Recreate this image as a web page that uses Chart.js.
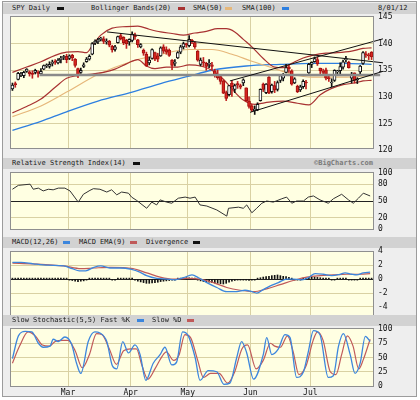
<!DOCTYPE html>
<html>
<head>
<meta charset="utf-8">
<title>SPY Daily</title>
<script src="https://cdn.jsdelivr.net/npm/chart.js@4.4.1/dist/chart.umd.min.js"></script>
<style>
    body { margin: 0; width: 420px; height: 400px; background: #ffffff; overflow: hidden; }
    #frame { position: absolute; left: 2px; top: 1px; width: 413px; height: 394px; border: 1px solid #9c9c9c; background: #eeeeee; }
    .head { position: absolute; left: 3px; width: 413px; height: 11px; background: #d2d2d2; }
    .head span { position: absolute; top: 0; font: 7px "DejaVu Sans Mono", monospace; line-height: 11px; color: #1a1a1a; white-space: nowrap; }
    .head i { position: absolute; top: 4px; width: 7px; height: 3px; }
    .head .brand { font-weight: bold; color: #7a7a7a; }
    canvas { position: absolute; left: 5px; }
</style>
</head>
<body>
<div id="frame"></div>

<div class="head" style="top: 3px;">
    <span style="left: 9px;">SPY Daily</span><i style="left: 54px; background: #111;"></i>
    <span style="left: 88px;">Bollinger Bands(20)</span><i style="left: 175px; background: #a83232;"></i>
    <span style="left: 190px;">SMA(50)</span><i style="left: 222px; background: #e6b77a;"></i>
    <span style="left: 239px;">SMA(100)</span><i style="left: 279px; background: #2d7fe0;"></i>
    <span style="left: 375px;">8/01/12</span>
</div>
<canvas id="price" width="406" height="145" style="top: 11px;"></canvas>

<div class="head" style="top: 158px;">
    <span style="left: 9px;">Relative Strength Index(14)</span><i style="left: 130px; background: #111;"></i>
    <span class="brand" style="right: 43px;">©BigCharts.com</span>
</div>
<canvas id="rsi" width="406" height="68" style="top: 167px;"></canvas>

<div class="head" style="top: 237px;">
    <span style="left: 9px;">MACD(12,26)</span><i style="left: 60px; background: #3c86dd;"></i>
    <span style="left: 76px;">MACD EMA(9)</span><i style="left: 127px; background: #c05a5a;"></i>
    <span style="left: 143px;">Divergence</span><i style="left: 190px; background: #111;"></i>
</div>
<canvas id="macd" width="406" height="72" style="top: 246px;"></canvas>

<div class="head" style="top: 315px;">
    <span style="left: 9px;">Slow Stochastic(5,5) Fast %K</span><i style="left: 134px; background: #3c86dd;"></i>
    <span style="left: 149px;">Slow %D</span><i style="left: 184px; background: #c05a5a;"></i>
</div>
<canvas id="stoch" width="406" height="77" style="top: 323px;"></canvas>

<script>
// day index 0 = Feb 1 2012, 126 = Aug 1 2012
const monthTicks = [19.5, 41.5, 61.5, 83.5, 104.5];
const monthLabels = ['Mar', 'Apr', 'May', 'Jun', 'Jul'];

const priceTicks = [120, 125, 130, 135, 140, 145];
const rsiTicks = [0, 20, 50, 80, 100];
const macdTicks = [-4, -2, 0, 2, 4];
const stochTicks = [0, 25, 50, 75, 100];

// daily candles
const candleOpen = [
    131.5, 132.5, 133.3, 134.1, 134.0, 134.8, 134.7, 134.4, 134.6, 134.5,
    134.3, 135.2, 135.8, 135.7, 136.3, 136.6, 136.4, 137.0, 137.4, 137.6,
    137.2, 137.8, 137.1, 135.3, 134.6, 135.7, 136.6, 137.1, 138.0, 140.1,
    140.3, 140.8, 140.9, 140.3, 140.5, 139.5, 138.9, 140.2, 141.5, 141.2,
    140.6, 140.3, 140.6, 141.6, 140.7, 139.4, 138.8, 138.0, 136.4, 137.2,
    138.3, 137.7, 137.7, 139.4, 138.9, 138.8, 136.9, 136.3, 137.3, 138.4,
    139.4, 139.9, 139.6, 140.6, 140.2, 138.6, 136.1, 136.5, 136.3, 136.1,
    136.0, 134.9, 134.3, 133.8, 133.0, 130.8, 130.4, 132.6, 131.4, 132.5,
    132.1, 132.6, 131.7, 129.2, 128.3, 127.4, 127.6, 129.3, 132.4, 130.8,
    133.7, 131.0, 132.1, 131.4, 133.1, 133.5, 134.6, 135.6, 134.9, 132.6,
    132.0, 131.3, 131.9, 132.8, 134.5, 136.1, 136.6, 137.0, 135.4, 134.8,
    135.1, 133.6, 132.6, 133.1, 134.7, 134.9, 135.6, 137.0, 136.5, 133.5,
    134.5, 133.2, 134.7, 136.3, 138.1, 137.8, 138.4
];
const candleHigh = [
    132.6, 132.8, 134.6, 134.6, 134.8, 135.3, 134.9, 134.9, 135.2, 134.9,
    135.3, 136.0, 136.2, 136.6, 136.9, 137.0, 137.2, 137.6, 137.8, 138.0,
    137.9, 138.0, 137.2, 135.4, 135.4, 136.4, 137.4, 137.9, 140.2, 140.7,
    141.0, 141.2, 141.3, 140.9, 140.6, 139.7, 139.7, 141.4, 141.9, 141.3,
    140.8, 140.9, 142.2, 142.0, 140.8, 140.0, 139.0, 138.4, 137.5, 139.0,
    138.4, 138.2, 139.4, 139.8, 139.4, 139.0, 137.0, 137.0, 138.5, 139.7,
    140.3, 140.1, 141.5, 140.8, 140.4, 138.7, 137.3, 137.4, 136.5, 137.0,
    136.5, 135.2, 135.0, 134.1, 133.2, 131.1, 132.1, 133.1, 132.4, 132.9,
    132.4, 133.4, 131.7, 130.0, 128.6, 128.3, 128.9, 131.5, 132.6, 132.5,
    133.8, 132.4, 132.9, 133.0, 134.1, 134.4, 136.1, 136.0, 135.1, 133.6,
    132.2, 132.2, 133.2, 133.1, 136.3, 136.6, 137.5, 137.5, 135.4, 135.2,
    135.4, 134.0, 133.4, 135.1, 135.0, 136.4, 136.9, 137.6, 136.7, 134.6,
    134.5, 133.6, 135.9, 138.5, 138.5, 138.2, 138.5
];
const candleLow = [
    131.2, 131.8, 133.2, 133.8, 133.6, 134.6, 133.9, 133.5, 134.3, 133.7,
    134.2, 135.1, 135.5, 135.4, 135.8, 136.1, 136.2, 136.4, 137.0, 136.4,
    137.0, 136.8, 135.6, 133.6, 134.4, 135.5, 136.5, 136.9, 137.9, 139.8,
    140.0, 140.5, 140.0, 139.9, 139.4, 138.4, 138.6, 140.1, 140.7, 139.8,
    139.1, 139.7, 140.3, 140.8, 139.3, 139.2, 137.8, 135.7, 136.0, 137.1,
    136.8, 136.6, 137.6, 138.2, 138.0, 137.6, 135.1, 135.8, 137.2, 138.1,
    139.0, 139.3, 139.4, 140.0, 139.1, 136.7, 135.8, 135.7, 135.0, 135.5,
    135.1, 133.7, 133.3, 132.4, 130.6, 129.3, 130.2, 130.1, 130.8, 131.6,
    131.5, 132.1, 129.1, 127.9, 127.2, 126.7, 127.4, 129.2, 131.0, 130.6,
    130.6, 130.7, 130.8, 131.1, 132.7, 133.0, 134.5, 134.6, 132.2, 132.5,
    130.8, 131.0, 131.6, 131.5, 134.4, 135.5, 136.5, 135.9, 134.2, 134.0,
    133.2, 132.9, 131.9, 132.9, 134.1, 134.0, 135.2, 136.5, 135.4, 132.6,
    132.6, 132.5, 134.3, 136.1, 137.4, 137.0, 137.0
];
const candleClose = [
    132.2, 132.3, 134.4, 134.3, 134.6, 135.2, 134.3, 134.2, 135.0, 134.4,
    134.8, 135.9, 136.0, 136.1, 136.4, 136.5, 136.9, 137.3, 137.4, 137.0,
    137.7, 137.3, 135.9, 134.0, 135.0, 136.0, 137.1, 137.6, 140.0, 140.5,
    140.7, 141.0, 140.4, 140.4, 139.7, 138.8, 139.4, 141.3, 140.9, 140.2,
    140.0, 140.8, 141.8, 141.3, 139.8, 139.8, 138.2, 135.8, 136.9, 138.9,
    137.1, 137.1, 139.2, 138.6, 138.4, 137.8, 135.9, 136.5, 138.3, 139.4,
    140.0, 139.8, 140.8, 140.4, 139.4, 136.9, 136.9, 136.4, 135.7, 136.2,
    135.7, 134.1, 133.6, 132.9, 130.7, 129.7, 132.1, 131.9, 132.1, 132.2,
    131.8, 133.2, 129.3, 128.2, 127.5, 127.7, 128.6, 131.4, 131.4, 132.4,
    130.7, 132.2, 131.3, 132.7, 134.0, 134.2, 135.5, 135.3, 132.4, 133.4,
    131.0, 131.9, 132.9, 132.6, 136.1, 136.5, 137.2, 136.2, 134.9, 134.6,
    133.5, 133.4, 132.8, 135.0, 134.7, 135.7, 136.6, 137.0, 135.5, 134.3,
    133.1, 133.2, 135.8, 138.3, 137.9, 137.7, 137.5
];

// overlays (day, value)
const bbUpperDays = [0, 5, 10, 15, 19, 23, 26, 28, 31, 35, 40, 44, 48, 52, 56, 60, 64, 68, 72, 75, 78, 81, 84, 88, 92, 95, 98, 102, 106, 110, 114, 119, 123, 126];
const bbUpper = [134.6, 135.6, 136.6, 137.8, 138.4, 138.5, 138.3, 139.6, 141.6, 142.9, 143.2, 143.3, 142.7, 142.2, 141.9, 141.6, 142.0, 142.3, 142.8, 142.8, 142.2, 140.8, 139.4, 137.2, 135.6, 135.5, 136.3, 137.3, 137.9, 138.2, 138.3, 138.6, 139.1, 139.2];
const bbLowerDays = [0, 5, 10, 15, 19, 23, 28, 32, 36, 40, 44, 47, 50, 54, 58, 62, 66, 70, 74, 78, 81, 85, 90, 95, 100, 104, 108, 112, 116, 120, 123, 126];
const bbLower = [127.0, 128.2, 129.6, 131.8, 133.5, 134.0, 134.3, 134.6, 135.2, 136.2, 137.0, 135.8, 135.3, 135.6, 135.6, 136.0, 135.8, 135.0, 133.3, 130.9, 129.4, 128.6, 129.0, 129.2, 128.8, 128.5, 130.4, 131.6, 132.3, 132.6, 133.0, 133.1];
const sma50Days = [0, 10, 19, 30, 42, 52, 62, 70, 77, 84, 91, 98, 105, 116, 126];
const sma50 = [126.3, 128.3, 130.9, 134.2, 136.7, 138.0, 138.9, 138.9, 138.0, 136.7, 135.5, 134.3, 133.7, 133.7, 134.0];
const sma100Days = [0, 10, 19, 30, 42, 52, 62, 70, 82, 94, 105, 116, 126];
const sma100 = [123.7, 125.4, 127.2, 129.2, 130.9, 132.5, 133.9, 135.0, 135.8, 136.1, 136.3, 136.3, 136.1];

// hand drawn trend lines
const trendDownDays = [33.2, 130];
const trendDown = [142.2, 136.4];
const supportDays = [9.5, 129];
const support = [134.1, 134.1];
const channelTopDays = [76.3, 130];
const channelTop = [133.0, 140.9];
const channelBottomDays = [83.4, 130];
const channelBottom = [127.1, 134.8];

// rsi(14)
const rsiDays = [0, 2.1, 6.2, 7.3, 9.1, 10.8, 12.6, 14.3, 16.1, 18.4, 20.2, 23.1, 24.9, 27.2, 28.4, 30.7, 33.1, 34.8, 36.6, 38.3, 40.7, 41.8, 43.6, 47.1, 48.9, 50.6, 51.8, 54.1, 55.9, 58.2, 60.6, 62.3, 64.1, 65.8, 68.2, 71.7, 75.2, 75.8, 79.3, 81, 82.2, 84, 85.7, 87.5, 89.2, 91.5, 94.5, 96.2, 98, 99.7, 102.1, 103.8, 105.6, 107.9, 110.8, 112.6, 115.5, 117.9, 119.6, 121.4, 123.1, 125.5];
const rsiValues = [71, 78, 80, 71, 73, 68, 71, 70, 73, 73, 68, 48, 62, 69, 72, 71, 66, 70, 61, 66, 64, 57, 51, 37, 48, 43, 52, 48, 46, 55, 57, 55, 57, 43, 41, 34, 23, 37, 39, 37, 43, 29, 37, 46, 50, 48, 54, 57, 46, 50, 50, 57, 59, 52, 46, 54, 62, 52, 46, 55, 64, 59];

// macd(12,26), ema(9) and divergence
const macdDays = [0, 3, 7.3, 12.6, 18, 21, 23.5, 25.7, 28.6, 31, 34.2, 37.7, 41.8, 44.7, 47.1, 50.6, 54.1, 57, 60, 63, 65.3, 68.2, 71.7, 75.2, 78.7, 81.6, 84, 85.7, 88, 90.3, 93.3, 96.2, 98.5, 101.5, 103.8, 106.2, 109, 112, 114.9, 116.7, 119, 120.8, 123.1, 125.5];
const macdValues = [2.4, 2.4, 2.2, 2.0, 1.9, 1.5, 1.2, 1.2, 1.7, 1.9, 1.6, 1.6, 1.4, 1.0, 0.5, 0.1, 0, -0.1, 0.2, 0.6, 0.2, -0.5, -1.2, -1.8, -1.8, -1.6, -1.8, -2.0, -1.5, -1.0, -0.5, 0, 0, -0.1, 0.2, 0.8, 0.7, 0.5, 0.7, 0.9, 0.7, 0.6, 0.9, 1.0];
const signalDays = [0, 7.3, 18, 24, 28.6, 34.2, 42.3, 47.1, 51.8, 56.5, 61.2, 65.8, 70.5, 75.2, 79.9, 84.6, 89.2, 93.9, 98.5, 103.2, 107.9, 112.6, 117.3, 122, 125.5];
const signalValues = [2.3, 2.2, 1.9, 1.5, 1.6, 1.7, 1.5, 0.9, 0.3, 0.0, 0.1, 0.0, -0.5, -1.2, -1.6, -1.8, -1.4, -0.8, -0.2, 0.3, 0.5, 0.6, 0.7, 0.7, 0.8];
const divergence = [
    0.1, 0.1, 0.1, 0.1, 0.05, 0.05, 0.05, 0.05, 0.05, 0.05,
    0.05, 0.05, 0.05, 0.05, 0.05, 0.05, 0.05, 0.05, 0.05, 0.05,
    -0.1, -0.2, -0.3, -0.35, -0.3, -0.25, -0.1, 0.05, 0.1, 0.1,
    0.1, 0.1, 0.05, 0.05, 0.05, -0.05, -0.05, 0.05, 0.05, 0.05,
    0.05, 0.05, 0.05, -0.1, -0.3, -0.4, -0.5, -0.6, -0.6, -0.55,
    -0.5, -0.45, -0.35, -0.3, -0.25, -0.2, -0.15, -0.1, 0.05, 0.1,
    0.15, 0.2, 0.2, 0.15, 0.05, -0.15, -0.25, -0.35, -0.4, -0.45,
    -0.5, -0.55, -0.6, -0.65, -0.7, -0.6, -0.45, -0.3, -0.2, -0.1,
    -0.05, -0.1, -0.15, -0.2, -0.15, -0.1, 0.1, 0.2, 0.3, 0.35,
    0.4, 0.5, 0.55, 0.6, 0.5, 0.4, 0.35, 0.25, 0.1, -0.05,
    -0.1, -0.1, 0.05, 0.1, 0.25, 0.3, 0.3, 0.25, 0.2, 0.15,
    0.1, 0.05, -0.05, -0.05, 0.05, 0.1, 0.1, 0.05, -0.05, -0.1,
    -0.1, -0.05, 0.05, 0.1, 0.1, 0.1, 0.1
];

// slow stochastic(5,5)
const stochKDays = [0, 2.1, 4.5, 6.8, 9.1, 10.8, 13.2, 14.3, 16.1, 18.4, 20.7, 22.5, 24, 26.6, 28.9, 30.7, 33.1, 35.1, 36.6, 38.7, 40.7, 43, 44.8, 46.8, 49.4, 51.8, 53.5, 55.9, 57.6, 59.7, 61.7, 64.1, 65.8, 68.7, 71.7, 74.2, 76.3, 78.7, 80.4, 82.2, 84.6, 88, 89.2, 91, 93.3, 95.6, 97.4, 99.7, 102.1, 103.8, 105.6, 107.9, 110.8, 112.6, 114.4, 116.1, 118.5, 120.2, 122, 123.8, 125.5];
const stochK = [48, 88, 96, 95, 75, 68, 70, 82, 78, 86, 74, 40, 22, 78, 95, 93, 78, 35, 30, 78, 58, 72, 55, 10, 40, 55, 68, 37, 42, 95, 88, 50, 10, 27, 25, 3, 5, 50, 78, 58, 12, 55, 85, 55, 65, 90, 85, 15, 25, 60, 97, 90, 15, 18, 70, 92, 55, 22, 40, 87, 78];
const stochDDays = [0, 2.5, 5.5, 8, 10.5, 13, 15, 17.5, 19.5, 22, 24.5, 27, 29.5, 31.5, 34, 36.5, 39, 41.5, 43.5, 45.5, 47.5, 50, 52.5, 54, 56.5, 58.5, 60.5, 62.5, 65, 67, 69.5, 72.5, 75.5, 78, 80.5, 82.5, 85.5, 88, 90.5, 92, 94, 96.5, 98.5, 100.5, 103, 105.5, 107, 109, 111.5, 113.5, 115.5, 117.5, 119.5, 121.5, 123, 125.5];
const stochD = [40, 70, 95, 88, 72, 70, 78, 80, 80, 62, 32, 55, 92, 90, 65, 38, 62, 65, 65, 35, 12, 30, 52, 60, 45, 55, 90, 85, 45, 15, 22, 22, 5, 25, 65, 72, 30, 45, 75, 70, 68, 88, 60, 20, 35, 80, 95, 80, 25, 20, 55, 88, 70, 30, 45, 82];

const tan = '#d9d1a3';
const dark = '#222222';

Chart.defaults.font.family = '"DejaVu Sans Mono", monospace';
Chart.defaults.font.size = 8;
Chart.defaults.color = '#111111';

// pale plot background and grey frame round each panel
const panelFrame = {
    id: 'panelFrame',
    beforeDraw(chart) {
        const a = chart.chartArea;
        const ctx = chart.ctx;
        ctx.save();
        ctx.fillStyle = '#ffffe2';
        ctx.fillRect(a.left, a.top, a.right - a.left, a.bottom - a.top);
        ctx.restore();
    },
    afterDraw(chart) {
        const a = chart.chartArea;
        const ctx = chart.ctx;
        ctx.save();
        ctx.strokeStyle = '#8f8f8f';
        ctx.lineWidth = 1;
        ctx.strokeRect(a.left - 0.5, a.top - 0.5, a.right - a.left + 1, a.bottom - a.top + 1);
        ctx.restore();
    }
};

function lineSet(days, values, color, width, smooth) {
    return {
        type: 'line',
        data: days.map((d, i) => ({ x: d, y: values[i] })),
        borderColor: color,
        borderWidth: width,
        pointRadius: 0,
        fill: false,
        tension: 0,
        cubicInterpolationMode: smooth ? 'monotone' : 'default',
        order: 3
    };
}

function trendSet(days, values, color, width) {
    const set = lineSet(days, values, color, width, false);
    set.clip = false;
    set.order = 0;
    return set;
}

function xAxis(showMonths) {
    return {
        type: 'linear',
        min: -0.5,
        max: 126.5,
        offset: false,
        afterBuildTicks: scale => { scale.ticks = monthTicks.map(v => ({ value: v })); },
        afterFit: scale => {
            scale.height = showMonths ? 14 : 0;
            scale.paddingLeft = 0;
            scale.paddingRight = 0;
        },
        grid: { color: tan, drawTicks: false, offset: false },
        border: { display: false },
        ticks: {
            display: showMonths,
            autoSkip: false,
            maxRotation: 0,
            padding: 2,
            callback: (value, index) => monthLabels[index]
        }
    };
}

function yAxis(min, max, tickValues, gridColor) {
    return {
        position: 'right',
        min: min,
        max: max,
        afterBuildTicks: scale => { scale.ticks = tickValues.map(v => ({ value: v })); },
        afterFit: scale => {
            scale.width = 38;
            scale.paddingTop = 0;
            scale.paddingBottom = 0;
        },
        grid: { color: c => gridColor(c.tick.value), drawTicks: false },
        border: { display: false },
        ticks: { padding: 5, autoSkip: false }
    };
}

function panelOptions(x, y, bottomPad) {
    return {
        responsive: false,
        animation: false,
        devicePixelRatio: 1,
        events: [],
        layout: { padding: { left: 6, right: 0, top: 6, bottom: bottomPad } },
        plugins: { legend: { display: false }, tooltip: { enabled: false } },
        scales: { x: x, y: y }
    };
}

(function () {
    "use strict";

    // price panel: candles, bands, averages and trend lines
    const isDown = candleClose.map((c, i) => c < candleOpen[i]);
    new Chart(document.getElementById('price'), {
        type: 'line',
        data: {
            datasets: [
                trendSet(trendDownDays, trendDown, '#111111', 1),
                trendSet(channelTopDays, channelTop, '#111111', 1),
                trendSet(channelBottomDays, channelBottom, '#111111', 1),
                {
                    type: 'bar',
                    data: candleClose.map((c, i) => ({ x: i, y: [candleOpen[i], c] })),
                    backgroundColor: isDown.map(d => d ? '#d8261f' : '#ffffff'),
                    borderColor: isDown.map(d => d ? '#a01010' : '#111111'),
                    borderWidth: 1,
                    borderSkipped: false,
                    barThickness: 3,
                    minBarLength: 1,
                    grouped: false,
                    order: 1
                },
                {
                    type: 'bar',
                    data: candleClose.map((c, i) => ({ x: i, y: [candleLow[i], candleHigh[i]] })),
                    backgroundColor: isDown.map(d => d ? '#c02020' : '#111111'),
                    borderWidth: 0,
                    barThickness: 1,
                    grouped: false,
                    order: 2
                },
                trendSet(supportDays, support, '#8a8a8a', 2.5),
                lineSet(bbUpperDays, bbUpper, '#a83232', 1.2, true),
                lineSet(bbLowerDays, bbLower, '#a83232', 1.2, true),
                lineSet(sma50Days, sma50, '#e6b77a', 1.2, true),
                lineSet(sma100Days, sma100, '#2d7fe0', 1.3, true)
            ]
        },
        options: panelOptions(xAxis(false), yAxis(120.4, 145, priceTicks, v => (v === 120 || v === 145) ? 'transparent' : tan), 8),
        plugins: [panelFrame]
    });

    // relative strength index
    new Chart(document.getElementById('rsi'), {
        type: 'line',
        data: { datasets: [lineSet(rsiDays, rsiValues, '#333333', 1, false)] },
        options: panelOptions(xAxis(false), yAxis(0, 100, rsiTicks, v => v === 50 ? dark : (v === 20 || v === 80) ? tan : 'transparent'), 6),
        plugins: [panelFrame]
    });

    // macd with its ema and divergence bars
    new Chart(document.getElementById('macd'), {
        type: 'line',
        data: {
            datasets: [
                lineSet(macdDays, macdValues, '#3c86dd', 1.3, true),
                lineSet(signalDays, signalValues, '#c05a5a', 1.2, true),
                {
                    type: 'bar',
                    data: divergence.map((v, i) => ({ x: i, y: v })),
                    backgroundColor: '#111111',
                    barThickness: 1,
                    minBarLength: 1,
                    grouped: false,
                    order: 4
                }
            ]
        },
        options: panelOptions(xAxis(false), yAxis(-5.3, 3.9, macdTicks, v => v === 0 ? dark : v === 4 ? 'transparent' : tan), 2),
        plugins: [panelFrame]
    });

    // slow stochastic
    new Chart(document.getElementById('stoch'), {
        type: 'line',
        data: {
            datasets: [
                lineSet(stochKDays, stochK, '#3c86dd', 1.3, true),
                lineSet(stochDDays, stochD, '#c05a5a', 1.2, true)
            ]
        },
        options: panelOptions(xAxis(true), yAxis(0, 100, stochTicks, v => (v === 0 || v === 100) ? 'transparent' : tan), 0),
        plugins: [panelFrame]
    });
})();
</script>
</body>
</html>
